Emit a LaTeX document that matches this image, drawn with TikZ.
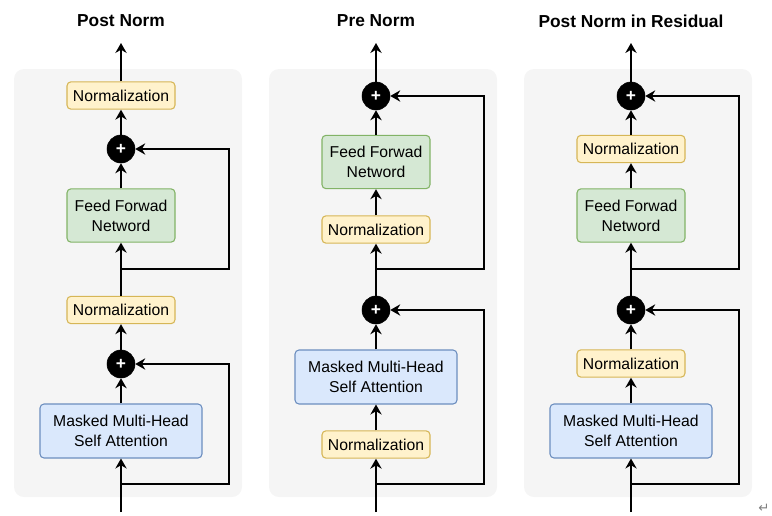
\documentclass[tikz,border=0pt]{standalone}
\usepackage{fontspec}
\setmainfont{Liberation Sans}
\newfontfamily\symfont{DejaVu Sans}
\usetikzlibrary{arrows.meta,positioning}
\definecolor{panelbg}{HTML}{F5F5F5}
\definecolor{yfill}{HTML}{FFF2CC}\definecolor{ydraw}{HTML}{D6B656}
\definecolor{gfill}{HTML}{D5E8D4}\definecolor{gdraw}{HTML}{82B366}
\definecolor{bfill}{HTML}{DAE8FC}\definecolor{bdraw}{HTML}{6C8EBF}
\tikzset{
  panel/.style={fill=panelbg,draw=none,rounded corners=7.5pt},
  boxbase/.style={rounded corners=3pt,line width=0.8pt,align=center,inner sep=0pt,
     font=\fontsize{11.8}{15}\selectfont},
  normbox/.style={boxbase,fill=yfill,draw=ydraw,minimum width=81pt,minimum height=20.5pt},
  ffnbox/.style={boxbase,fill=gfill,draw=gdraw,minimum width=81pt,minimum height=40pt},
  attbox/.style={boxbase,fill=bfill,draw=bdraw,minimum width=121.5pt,minimum height=40.5pt},
  plus/.style={circle,fill=black,draw=black,minimum size=21pt,inner sep=0pt,
     text=white,font=\bfseries\fontsize{13}{13}\selectfont},
  title/.style={font=\bfseries\fontsize{13}{15}\selectfont},
  conn/.style={line width=1pt,-{Stealth[length=7.5pt,width=8.5pt,inset=2.5pt]}},
  wire/.style={line width=1pt}
}
\begin{document}
\begin{tikzpicture}[x=0.75pt,y=-0.75pt]
\useasboundingbox (0,0) rectangle (772,515);
% panels
\fill[panel] (14,69) rectangle (242,497);
\fill[panel] (269,69) rectangle (497,497);
\fill[panel] (524,69) rectangle (752,497);
% titles
\node[title] (t1) at (121,21) {Post Norm};
\node[title] (t2) at (376,21) {Pre Norm};
\node[title] (t3) at (631,21) {Post Norm in Residual};

% ---------- Panel 1: Post Norm ----------
\coordinate (a-in) at (121,512);
\coordinate (a-s1) at (121,484);
\coordinate (a-s2) at (121,269);
\coordinate (a-out) at (121,43);
\node[attbox] (a-att) at (121,431) {Masked Multi-Head\\Self Attention};
\node[plus] (a-p2) at (121,364) {+};
\node[normbox] (a-n2) at (121,310) {Normalization};
\node[ffnbox] (a-ffn) at (121,215.5) {Feed Forwad\\Netword};
\node[plus] (a-p1) at (121,149) {+};
\node[normbox] (a-n1) at (121,95.5) {Normalization};
\draw[conn] (a-in) -- (a-att);
\draw[conn] (a-att) -- (a-p2);
\draw[conn] (a-p2) -- (a-n2);
\draw[conn] (a-n2) -- (a-ffn);
\draw[conn] (a-ffn) -- (a-p1);
\draw[conn] (a-p1) -- (a-n1);
\draw[conn] (a-n1) -- (a-out);
\draw[conn] (a-s1) -- (229,484) |- (a-p2);
\draw[conn] (a-s2) -- (229,269) |- (a-p1);

% ---------- Panel 2: Pre Norm ----------
\coordinate (b-in) at (376,512);
\coordinate (b-s1) at (376,484);
\coordinate (b-s2) at (376,269);
\coordinate (b-out) at (376,43);
\node[normbox] (b-n2) at (376,444.5) {Normalization};
\node[attbox] (b-att) at (376,377) {Masked Multi-Head\\Self Attention};
\node[plus] (b-p2) at (376,310) {+};
\node[normbox] (b-n1) at (376,229.5) {Normalization};
\node[ffnbox] (b-ffn) at (376,162) {Feed Forwad\\Netword};
\node[plus] (b-p1) at (376,96) {+};
\draw[conn] (b-in) -- (b-n2);
\draw[conn] (b-n2) -- (b-att);
\draw[conn] (b-att) -- (b-p2);
\draw[conn] (b-p2) -- (b-n1);
\draw[conn] (b-n1) -- (b-ffn);
\draw[conn] (b-ffn) -- (b-p1);
\draw[conn] (b-p1) -- (b-out);
\draw[conn] (b-s1) -- (484,484) |- (b-p2);
\draw[conn] (b-s2) -- (484,269) |- (b-p1);

% ---------- Panel 3: Post Norm in Residual ----------
\coordinate (c-in) at (631,512);
\coordinate (c-s1) at (631,484);
\coordinate (c-s2) at (631,269);
\coordinate (c-out) at (631,43);
\node[attbox] (c-att) at (631,431) {Masked Multi-Head\\Self Attention};
\node[normbox] (c-n2) at (631,363.5) {Normalization};
\node[plus] (c-p2) at (631,310) {+};
\node[ffnbox] (c-ffn) at (631,215.5) {Feed Forwad\\Netword};
\node[normbox] (c-n1) at (631,149) {Normalization};
\node[plus] (c-p1) at (631,96) {+};
\draw[conn] (c-in) -- (c-att);
\draw[conn] (c-att) -- (c-n2);
\draw[conn] (c-n2) -- (c-p2);
\draw[conn] (c-p2) -- (c-ffn);
\draw[conn] (c-ffn) -- (c-n1);
\draw[conn] (c-n1) -- (c-p1);
\draw[conn] (c-p1) -- (c-out);
\draw[conn] (c-s1) -- (739,484) |- (c-p2);
\draw[conn] (c-s2) -- (739,269) |- (c-p1);

% paragraph mark
\node[text=gray,font=\symfont\fontsize{10}{10}\selectfont] (ret) at (764,508) {↵};
\end{tikzpicture}
\end{document}
